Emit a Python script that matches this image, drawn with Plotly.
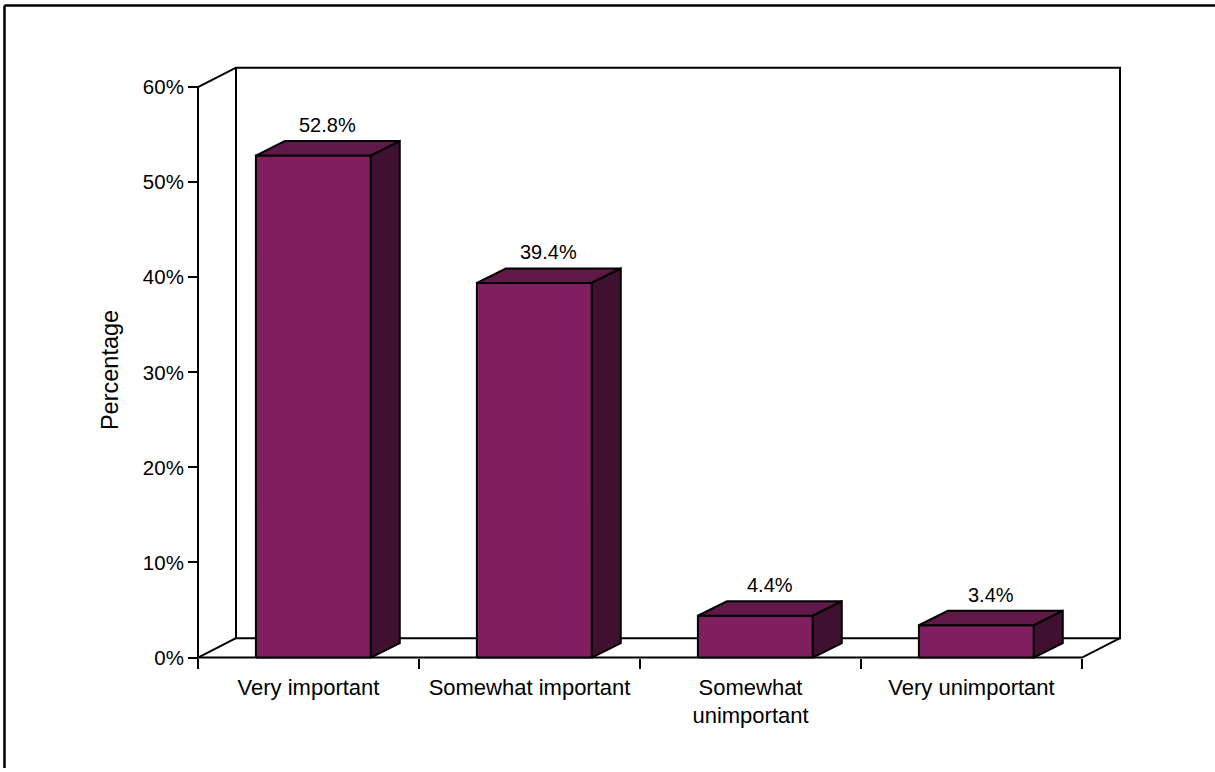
import plotly.graph_objects as go

# ---------------- data ----------------
categories = ["Very important", "Somewhat important", "Somewhat<br>unimportant", "Very unimportant"]
values = [52.8, 39.4, 4.4, 3.4]
value_labels = ["52.8%", "39.4%", "4.4%", "3.4%"]
y_ticks = [0, 10, 20, 30, 40, 50, 60]
y_tick_labels = ["0%", "10%", "20%", "30%", "40%", "50%", "60%"]
axis_title = "Percentage"

# ---------------- layout geometry (pixels) ----------------
W, H = 1215, 772
X0PX = 198.0      # pixel of first category boundary
CATPX = 221.0     # pixels per category
Y0PX = 661.0      # pixel of 0 %
PCTPX = 9.558     # pixels per percent
DOM_X = (188.0, 1132.0)
DOM_Y = (58.0, 668.0)

# 3D offsets (data units)
WALL_DX = 38.0 / CATPX
WALL_DY = 19.5 / PCTPX
BAR_LEFT = -0.238
BAR_W = 0.52
BAR_DX = 0.131
BAR_DY = 1.52

FRONT = "#801F5F"
TOP = "#5F1848"
SIDE = "#401030"
FONT = "Liberation Sans, Arial, sans-serif"

x_range = [(DOM_X[0] - X0PX) / CATPX - 0.5, (DOM_X[1] - X0PX) / CATPX - 0.5]
y_range = [(Y0PX - DOM_Y[1]) / PCTPX, (Y0PX - DOM_Y[0]) / PCTPX]

n = len(categories)
ymax = max(y_ticks)
xl, xr = -0.5, n - 0.5

fig = go.Figure()

# walls / floor outline
wx, wy = [], []
def seg(pts):
    for p in pts:
        wx.append(p[0]); wy.append(p[1])
    wx.append(None); wy.append(None)

seg([(xl, 0), (xl, ymax), (xl + WALL_DX, ymax + WALL_DY), (xr + WALL_DX, ymax + WALL_DY),
     (xr + WALL_DX, WALL_DY), (xl + WALL_DX, WALL_DY), (xl + WALL_DX, ymax + WALL_DY)])
seg([(xl, 0), (xl + WALL_DX, WALL_DY)])
seg([(xl, 0), (xr, 0), (xr + WALL_DX, WALL_DY)])

fig.add_trace(go.Scatter(x=wx, y=wy, mode="lines", line=dict(color="black", width=2),
                         hoverinfo="skip", showlegend=False))

# bars
for i, v in enumerate(values):
    x0 = i + BAR_LEFT
    x1 = x0 + BAR_W
    faces = [
        ([x0, x1, x1, x0, x0], [0, 0, v, v, 0], FRONT),
        ([x0, x1, x1 + BAR_DX, x0 + BAR_DX, x0], [v, v, v + BAR_DY, v + BAR_DY, v], TOP),
        ([x1, x1 + BAR_DX, x1 + BAR_DX, x1, x1], [0, BAR_DY, v + BAR_DY, v, 0], SIDE),
    ]
    for fx, fy, col in faces:
        fig.add_trace(go.Scatter(x=fx, y=fy, mode="lines", fill="toself", fillcolor=col,
                                 line=dict(color="black", width=2), hoverinfo="skip",
                                 showlegend=False))
    fig.add_annotation(x=x0 + BAR_W / 2 + BAR_DX / 2, y=v + BAR_DY, text=value_labels[i],
                       showarrow=False, yanchor="bottom", yshift=3,
                       font=dict(family=FONT, size=20, color="black"))

# axis title
fig.add_annotation(x=110 / W, y=1 - 372 / H, xref="paper", yref="paper", text=axis_title,
                   textangle=-90, showarrow=False, xanchor="center", yanchor="middle",
                   font=dict(family=FONT, size=23.5, color="black"))

# outer border (left + top)
fig.add_shape(type="line", xref="paper", yref="paper", x0=4.5 / W, x1=4.5 / W, y0=0, y1=1 - 5.5 / H,
              line=dict(color="black", width=2.5))
fig.add_shape(type="line", xref="paper", yref="paper", x0=4.5 / W, x1=1, y0=1 - 5.5 / H, y1=1 - 5.5 / H,
              line=dict(color="black", width=2.5))

fig.update_layout(
    width=W, height=H,
    margin=dict(l=0, r=0, t=0, b=0),
    paper_bgcolor="white", plot_bgcolor="rgba(0,0,0,0)",
    font=dict(family=FONT, color="black"),
    showlegend=False,
    xaxis=dict(range=x_range, domain=[DOM_X[0] / W, DOM_X[1] / W], anchor="free",
               position=1 - Y0PX / H, tickmode="array",
               tickvals=[k - 0.5 for k in range(n + 1)], showticklabels=False,
               ticks="outside", ticklen=10, tickwidth=2, tickcolor="black",
               showline=False, showgrid=False, zeroline=False, fixedrange=True),
    xaxis2=dict(range=x_range, domain=[DOM_X[0] / W, DOM_X[1] / W], anchor="free",
                overlaying="x", position=1 - Y0PX / H, tickmode="array",
                tickvals=list(range(n)), ticktext=categories, ticks="",
                ticklabelstandoff=14,
                tickfont=dict(family=FONT, size=22, color="black"),
                showline=False, showgrid=False, zeroline=False, fixedrange=True),
    yaxis=dict(range=y_range, domain=[1 - DOM_Y[1] / H, 1 - DOM_Y[0] / H], anchor="free",
               position=X0PX / W, tickmode="array", tickvals=y_ticks, ticktext=y_tick_labels,
               ticks="outside", ticklen=10, tickwidth=2, tickcolor="black",
               tickfont=dict(family=FONT, size=20.5, color="black"),
               showline=False, showgrid=False, zeroline=False, fixedrange=True),
)

# dummy trace to activate xaxis2
fig.add_trace(go.Scatter(x=[0], y=[0], xaxis="x2", mode="markers", marker=dict(opacity=0),
                         hoverinfo="skip", showlegend=False))

fig.write_html("out.html")
